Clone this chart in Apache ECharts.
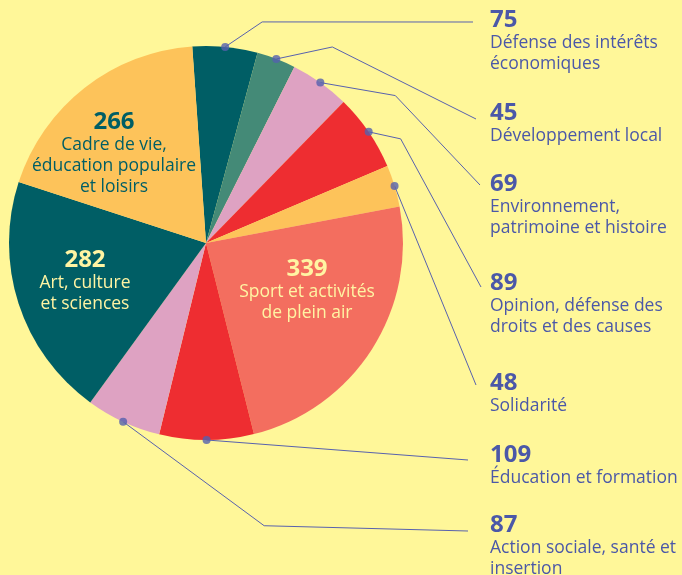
<!DOCTYPE html>
<html>
<head>
<meta charset="utf-8">
<script src="https://cdn.jsdelivr.net/npm/echarts@6/dist/echarts.min.js"></script>
<style>
    html, body { margin: 0; padding: 0; background: #fff799; }
    #main { width: 682px; height: 575px; }
</style>
</head>
<body>
<div id="main"></div>
<script>
    // slices, clockwise from the top
    var names = [
        'Défense des intérêts\néconomiques',
        'Développement local',
        'Environnement,\npatrimoine et histoire',
        'Opinion, défense des\ndroits et des causes',
        'Solidarité',
        'Sport et activités\nde plein air',
        'Éducation et formation',
        'Action sociale, santé et\ninsertion',
        'Art, culture\net sciences',
        'Cadre de vie,\néducation populaire\net loisirs'
    ];
    var values = [75, 45, 69, 89, 48, 339, 109, 87, 282, 266];
    var colors = ['#005e65', '#448a77', '#dea2c2', '#ee2d31', '#fdc35a',
                  '#f36e5f', '#ee2d31', '#dea2c2', '#005e65', '#fdc35a'];

    // layout
    var CX = 206, CY = 243, R = 197, START = 94;
    var BLUE = '#4b58a8';
    var insidePos = {5: [307, 269], 8: [85, 260], 9: [114, 122]};
    var insideColor = {5: '#fff4a3', 8: '#fff4a3', 9: '#005e65'};
    var rowY = {0: 20, 1: 113, 2: 184, 3: 283, 4: 383, 6: 455, 7: 525};
    var lineEnd = {0: [473, 22], 1: [476, 119], 2: [480, 185], 3: [481, 287],
                   4: [476, 385], 6: [468, 460], 7: [468, 531]};
    var bend = {0: [37, -25], 1: [56, -12], 2: [75, 13], 3: [32, 7], 7: [141, 104]};

    var total = values.reduce(function (a, b) { return a + b; }, 0);
    var mids = [];
    var acc = 0;
    values.forEach(function (v) {
        mids.push(acc + v / 2);
        acc += v;
    });

    function edgePoint(i) {
        var a = (START - mids[i] / total * 360) * Math.PI / 180;
        return [CX + R * Math.cos(a), CY - R * Math.sin(a)];
    }

    function richStyle(c) {
        return {
            v: {color: c, fontSize: 24, fontWeight: 'bold', lineHeight: 26, fontFamily: 'Open Sans'},
            n: {color: c, fontSize: 17.5, lineHeight: 21, fontFamily: 'Open Sans'}
        };
    }

    var chart = echarts.init(document.getElementById('main'));

    var pieData = values.map(function (v, i) {
        var item = {
            value: v,
            name: names[i],
            itemStyle: {color: colors[i]}
        };
        if (insidePos[i]) {
            item.label = {rich: richStyle(insideColor[i])};
            item.labelLine = {show: false};
        }
        return item;
    });

    var dots = [];
    values.forEach(function (v, i) {
        if (!insidePos[i]) dots.push([1, mids[i]]);
    });

    var option = {
        backgroundColor: '#fff799',
        animation: false,
        polar: {center: [CX, CY], radius: R},
        angleAxis: {type: 'value', min: 0, max: total, startAngle: START, clockwise: true, show: false},
        radiusAxis: {type: 'value', min: 0, max: 1, show: false},
        series: [
            {
                type: 'pie',
                center: [CX, CY],
                radius: R,
                startAngle: START,
                clockwise: true,
                avoidLabelOverlap: false,
                data: pieData,
                emphasis: {disabled: true},
                label: {
                    show: true,
                    position: 'outside',
                    formatter: function (p) {
                        return '{v|' + p.value + '}\n' + p.name.split('\n').map(function (s) {
                            return '{n|' + s + '}';
                        }).join('\n');
                    },
                    rich: richStyle(BLUE)
                },
                labelLine: {
                    show: true,
                    lineStyle: {color: '#5862ae', width: 1}
                },
                labelLayout: function (p) {
                    var i = p.dataIndex;
                    if (insidePos[i]) {
                        return {
                            x: insidePos[i][0],
                            y: insidePos[i][1] - 13,
                            align: 'center',
                            verticalAlign: 'top'
                        };
                    }
                    var d = edgePoint(i);
                    var pts = [d];
                    if (bend[i]) pts.push([d[0] + bend[i][0], d[1] + bend[i][1]]);
                    pts.push(lineEnd[i]);
                    return {
                        x: 490,
                        y: rowY[i] - 13,
                        align: 'left',
                        verticalAlign: 'top',
                        labelLinePoints: pts
                    };
                }
            },
            {
                type: 'scatter',
                coordinateSystem: 'polar',
                data: dots,
                symbolSize: 8,
                itemStyle: {color: '#5560ae'},
                silent: true,
                z: 5
            }
        ]
    };
    chart.setOption(option);
</script>
</body>
</html>
